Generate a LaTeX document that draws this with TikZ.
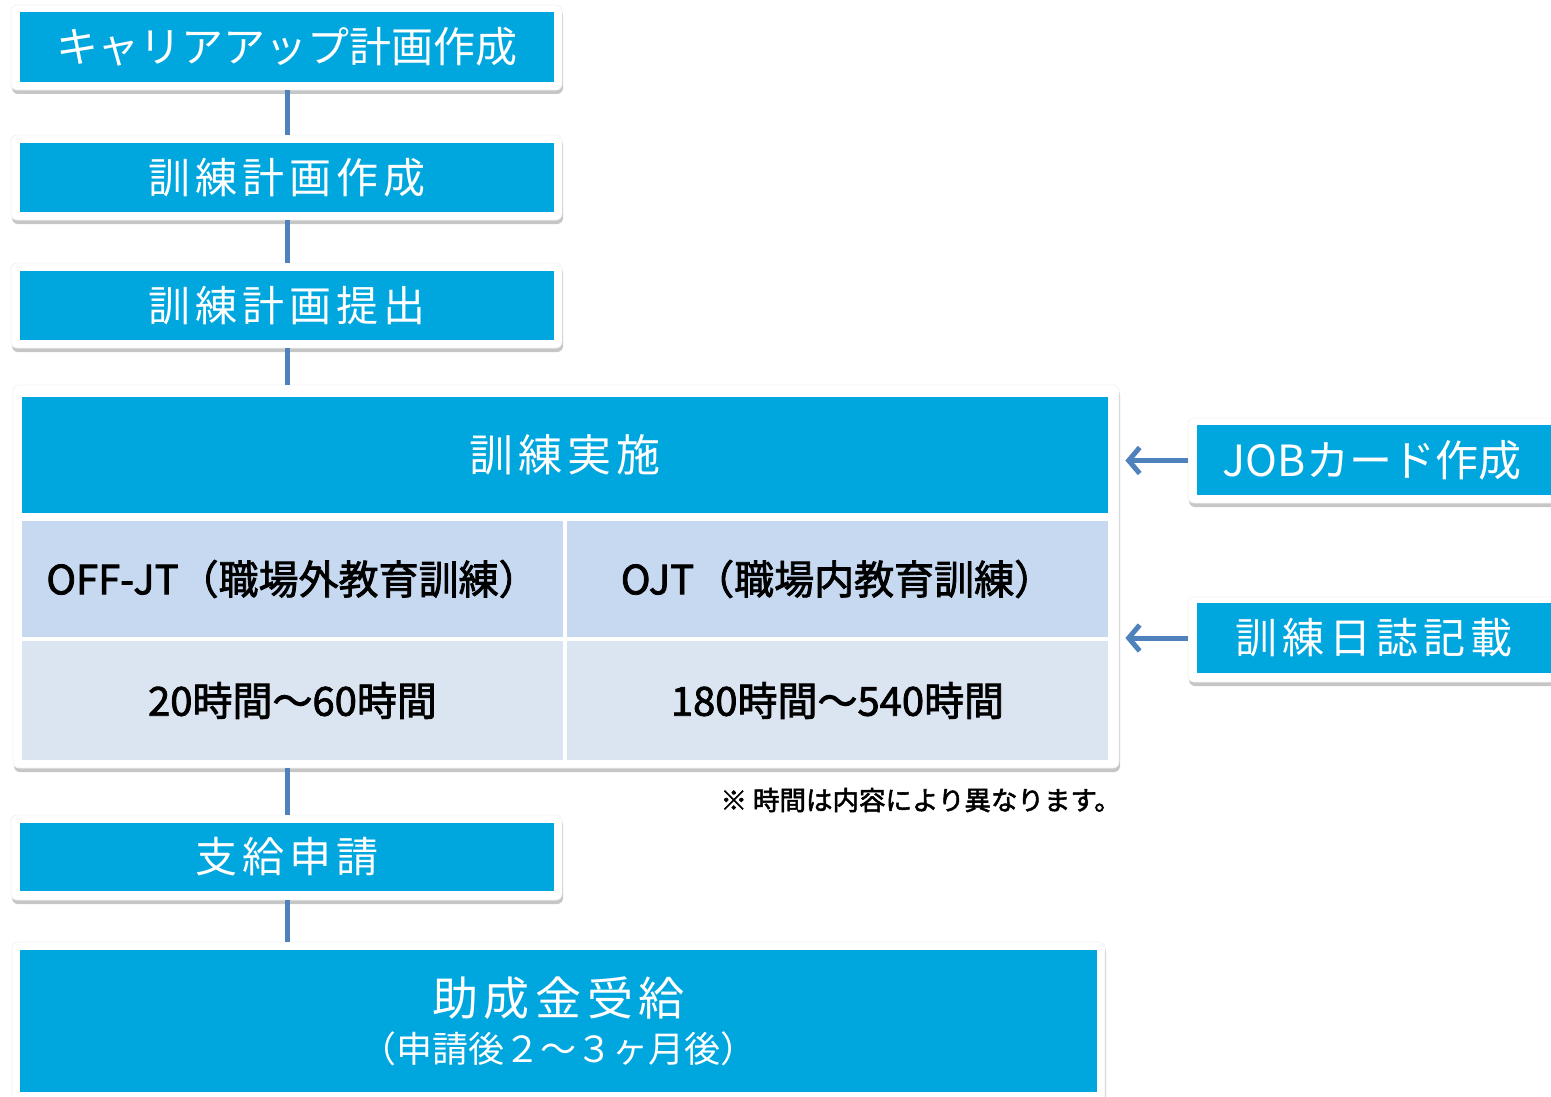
\documentclass[tikz,border=0pt]{standalone}
\usepackage{fontspec}
\newfontfamily\jp{Noto Sans CJK JP}
\newfontfamily\jpm[FakeBold=2]{Noto Sans CJK JP}
\newfontfamily\jpsp[LetterSpace=12]{Noto Sans CJK JP}
\usetikzlibrary{shadows,arrows.meta,calc}
\definecolor{bblue}{RGB}{0,166,222}
\definecolor{conn}{RGB}{79,129,189}
\definecolor{cellA}{RGB}{198,217,240}
\definecolor{cellB}{RGB}{219,229,241}
\tikzset{
  frame/.style={fill=white, draw=black!5, line width=0.8pt, rounded corners=6pt, inner sep=0pt,
    drop shadow={shadow xshift=1pt, shadow yshift=-4pt, fill=black!50, opacity=0.45}},
  bluebox/.style={fill=bblue, draw=none, inner sep=0pt, text=white,
    font=\jpsp\fontsize{42}{50}\selectfont},
  cell/.style={draw=none, inner sep=0pt, text=black, font=\jpm\fontsize{40}{46}\selectfont},
  link/.style={draw=conn, line width=5pt},
  arr/.style={draw=conn, line width=5pt, -{Straight Barb[length=11pt,width=26pt]}}
}
\begin{document}
\begin{tikzpicture}[x=1pt,y=-1pt]
\useasboundingbox (0,0) rectangle (1551,1097);
\clip (0,0) rectangle (1551,1097);
% step boxes
\node[frame, minimum width=551pt, minimum height=85pt] (f1) at (286.5,47.5) {};
\node[bluebox, minimum width=534pt, minimum height=70pt] (b1) at (287,47) {\jp\fontsize{42}{50}\selectfont キャリアアップ計画作成};
\node[frame, minimum width=551pt, minimum height=85pt] (f2) at (286.5,177.5) {};
\node[bluebox, minimum width=534pt, minimum height=69pt] (b2) at (287,177.5) {訓練計画作成};
\node[frame, minimum width=551pt, minimum height=85pt] (f3) at (286.5,305.5) {};
\node[bluebox, minimum width=534pt, minimum height=69pt] (b3) at (287,305.5) {訓練計画提出};
% big training box
\node[frame, minimum width=1106pt, minimum height=383pt] (big) at (566,576.5) {};
\node[bluebox, minimum width=1086pt, minimum height=116pt] (hd) at (565,455) {\fontsize{44}{50}\selectfont 訓練実施};
\node[cell, fill=cellA, minimum width=541pt, minimum height=116pt] (c11) at (292.5,579) {OFF-JT（職場外教育訓練）};
\node[cell, fill=cellA, minimum width=541pt, minimum height=116pt] (c12) at (837.5,579) {OJT（職場内教育訓練）};
\node[cell, fill=cellB, minimum width=541pt, minimum height=119pt] (c21) at (292.5,700.5) {20時間～60時間};
\node[cell, fill=cellB, minimum width=541pt, minimum height=119pt] (c22) at (837.5,700.5) {180時間～540時間};
\node[anchor=east, inner sep=0pt, font=\jpm\fontsize{26.5}{30}\selectfont] (note) at (1121,800) {※ 時間は内容により異なります。};
% apply
\node[frame, minimum width=551pt, minimum height=85pt] (f4) at (286.5,857.5) {};
\node[bluebox, minimum width=534pt, minimum height=68pt] (b4) at (287,857) {支給申請};
% receive
\node[frame, minimum width=1093pt, minimum height=170pt] (f5) at (558.5,1027) {};
\node[bluebox, minimum width=1077pt, minimum height=142pt, align=center] (b5) at (558.5,1021)
  {\jpsp\fontsize{46}{52}\selectfont 助成金受給\\[-3pt]{\jp\fontsize{36}{40}\selectfont （申請後２～３ヶ月後）}};
% right boxes
\node[frame, minimum width=372pt, minimum height=85pt] (jf) at (1374,460.5) {};
\node[bluebox, minimum width=363pt, minimum height=70pt] (jb) at (1378.5,460) {};
\node[text=white, inner sep=0pt, anchor=center, font=\jp\fontsize{43}{50}\selectfont] (jt) at (1372,460) {JOBカード作成};
\node[frame, minimum width=372pt, minimum height=85pt] (nf) at (1374,639.5) {};
\node[bluebox, minimum width=363pt, minimum height=70pt] (nb) at (1378.5,638) {};
\node[text=white, inner sep=0pt, anchor=center, font=\jpsp\fontsize{42}{50}\selectfont] (nt) at (1374,638) {訓練日誌記載};
% connectors
\draw[link] (f1.south -| b1.center) -- (f2.north -| b1.center);
\draw[link] (f2.south -| b2.center) -- (f3.north -| b2.center);
\draw[link] (f3.south -| b3.center) -- (big.north -| b3.center);
\draw[link] (big.south -| b3.center) -- (f4.north -| b3.center);
\draw[link] (f4.south -| b4.center) -- (f5.north -| b4.center);
\draw[arr] (jf.west) -- ($(jf.west -| big.east)+(6,0)$);
\draw[arr] (nf.west |- nb.center) -- ($(nb.center -| big.east)+(6,0)$);
\end{tikzpicture}
\end{document}
